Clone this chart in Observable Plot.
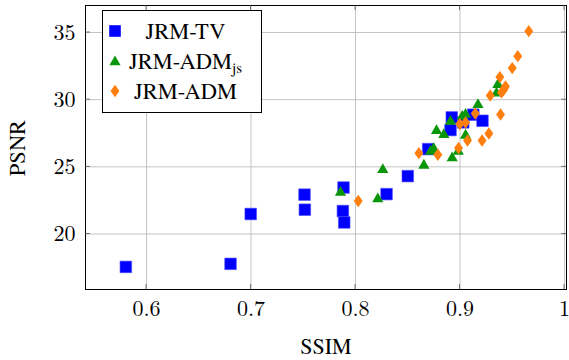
<!DOCTYPE html>
<html>
<head>
<meta charset="utf-8">
<script src="https://cdn.jsdelivr.net/npm/d3@7"></script>
<script src="https://cdn.jsdelivr.net/npm/@observablehq/plot@0.6"></script>
<style>
  html, body { margin: 0; padding: 0; background: white; }
  #chart { width: 569px; height: 360px; }
</style>
</head>
<body>
<div id="chart"></div>
<script>
// ---- Data ----
const xTicks = [0.6, 0.7, 0.8, 0.9, 1];
const yTicks = [20, 25, 30, 35];

const seriesNames = ["JRM-TV", "JRM-ADMjs", "JRM-ADM"];

const tvSSIM = [0.5802, 0.6804, 0.6997, 0.7512, 0.7515, 0.7885, 0.7879, 0.7892, 0.8297, 0.8500, 0.8695, 0.8921, 0.8909, 0.9031, 0.9127, 0.9215];
const tvPSNR = [17.55, 17.78, 21.49, 22.93, 21.81, 23.46, 21.71, 20.86, 22.97, 24.31, 26.32, 28.68, 27.74, 28.31, 28.88, 28.43];

const jsSSIM = [0.7856, 0.8213, 0.8261, 0.8654, 0.8718, 0.8749, 0.8775, 0.8845, 0.8925, 0.8983, 0.8909, 0.9021, 0.9053, 0.9053, 0.9172, 0.9349, 0.9362];
const jsPSNR = [23.16, 22.67, 24.85, 25.18, 26.22, 26.42, 27.76, 27.46, 25.73, 26.22, 28.45, 28.82, 28.97, 27.41, 29.69, 30.54, 31.18];

const admSSIM = [0.8026, 0.8606, 0.8788, 0.8986, 0.8998, 0.9053, 0.9072, 0.9146, 0.9211, 0.9276, 0.9289, 0.9388, 0.9397, 0.9416, 0.9435, 0.9381, 0.9500, 0.9553, 0.9658];
const admPSNR = [22.46, 26.02, 25.90, 26.40, 28.18, 28.30, 26.96, 28.97, 26.96, 27.48, 30.31, 28.90, 30.54, 30.72, 30.98, 31.68, 32.35, 33.24, 35.10];

// ---- Build tables ----
const toRows = (xs, ys) => xs.map((x, i) => ({ssim: x, psnr: ys[i]}));
const tv = toRows(tvSSIM, tvPSNR);
const js = toRows(jsSSIM, jsPSNR);
const adm = toRows(admSSIM, admPSNR);

// ---- Styles ----
const colors = ["#0000ff", "#0a960a", "#ff7f0e"];
const TIMES = "'TeX Gyre Termes', 'Liberation Serif', serif";
const CM = "'Latin Modern Roman', 'Liberation Serif', serif";

const symSquare = { draw(ctx, size) { const r = Math.sqrt(size / Math.PI); ctx.rect(-r, -r, 2 * r, 2 * r); } };
const symTriangle = { draw(ctx, size) { const r = Math.sqrt(size / Math.PI); ctx.moveTo(0, -r); ctx.lineTo(r, 0.75 * r); ctx.lineTo(-r, 0.75 * r); ctx.closePath(); } };
const symDiamond = { draw(ctx, size) { const r = Math.sqrt(size / Math.PI); ctx.moveTo(0, -r); ctx.lineTo(0.72 * r, 0); ctx.lineTo(0, r); ctx.lineTo(-0.72 * r, 0); ctx.closePath(); } };
const symbols = [symSquare, symTriangle, symDiamond];
const radii = [5.8, 5.6, 6.2];

const plot = Plot.plot({
  width: 569,
  height: 360,
  marginLeft: 85,
  marginRight: 3,
  marginTop: 5,
  marginBottom: 71,
  style: { fontFamily: CM, fontSize: "22px", background: "white", color: "black", overflow: "visible" },
  x: { domain: [0.5416, 1.0019], label: null },
  y: { domain: [15.87, 37.01], label: null },
  marks: [
    Plot.gridX(xTicks, { stroke: "#c4c4c4", strokeOpacity: 1, strokeWidth: 1 }),
    Plot.gridY(yTicks, { stroke: "#c4c4c4", strokeOpacity: 1, strokeWidth: 1 }),
    Plot.axisX(xTicks, { anchor: "bottom", tickSize: 0, tickPadding: 11, label: null, fontSize: 22, fontFamily: CM, tickFormat: d => d === 1 ? "1" : d.toFixed(1) }),
    Plot.axisY(yTicks, { anchor: "left", tickSize: 0, tickPadding: 10, label: null, fontSize: 22, fontFamily: CM }),
    Plot.dot(tv, { x: "ssim", y: "psnr", symbol: symbols[0], r: radii[0], fill: colors[0], stroke: "#4d4dff", strokeWidth: 0.6 }),
    Plot.dot(js, { x: "ssim", y: "psnr", symbol: symbols[1], r: radii[1], fill: colors[1], stroke: null }),
    Plot.dot(adm, { x: "ssim", y: "psnr", symbol: symbols[2], r: radii[2], fill: colors[2], stroke: null }),
    Plot.frame({ stroke: "black", strokeWidth: 1 })
  ]
});

document.getElementById("chart").appendChild(plot);

const svg = d3.select(plot);
svg.selectAll("text").style("font-family", CM).style("font-size", "22px");

// ---- Inward tick marks (pgfplots style) using Plot's scales ----
const xs = plot.scale("x"), ys = plot.scale("y");
const x0 = 85, x1 = 566, y0 = 5, y1 = 289, tl = 5;
const tg = svg.append("g").attr("stroke", "#555").attr("stroke-width", 0.8);
xTicks.forEach(t => {
  const px = xs.apply(t);
  tg.append("line").attr("x1", px).attr("x2", px).attr("y1", y1).attr("y2", y1 - tl);
  tg.append("line").attr("x1", px).attr("x2", px).attr("y1", y0).attr("y2", y0 + tl);
});
yTicks.forEach(t => {
  const py = ys.apply(t);
  tg.append("line").attr("y1", py).attr("y2", py).attr("x1", x0).attr("x2", x0 + tl);
  tg.append("line").attr("y1", py).attr("y2", py).attr("x1", x1).attr("x2", x1 - tl);
});

// ---- Axis titles ----
svg.append("text").attr("x", 326).attr("y", 354).attr("text-anchor", "middle")
  .style("font-family", TIMES).style("font-size", "22px").attr("fill", "black").text("SSIM");
svg.append("text").attr("transform", "translate(25,148) rotate(-90)").attr("text-anchor", "middle")
  .style("font-family", TIMES).style("font-size", "22.5px").attr("fill", "black").text("PSNR");

// ---- Legend ----
const lg = svg.append("g");
lg.append("rect").attr("x", 102.5).attr("y", 10.5).attr("width", 159).attr("height", 102)
  .attr("fill", "white").attr("stroke", "black").attr("stroke-width", 1);
const rowsY = [31, 61, 91];
seriesNames.forEach((name, i) => {
  const p = d3.path();
  symbols[i].draw(p, radii[i] * radii[i] * Math.PI);
  lg.append("path").attr("d", p.toString()).attr("transform", `translate(115,${rowsY[i]})`)
    .attr("fill", colors[i]);
  const t = lg.append("text").attr("x", 185.5).attr("y", rowsY[i] + 7.5).attr("text-anchor", "middle")
    .style("font-family", TIMES).style("font-size", "22.5px").attr("fill", "black");
  if (name === "JRM-ADMjs") {
    t.append("tspan").text("JRM-ADM");
    t.append("tspan").style("font-size", "15px").attr("dy", 4).text("js");
  } else {
    t.text(name);
  }
});
</script>
</body>
</html>
